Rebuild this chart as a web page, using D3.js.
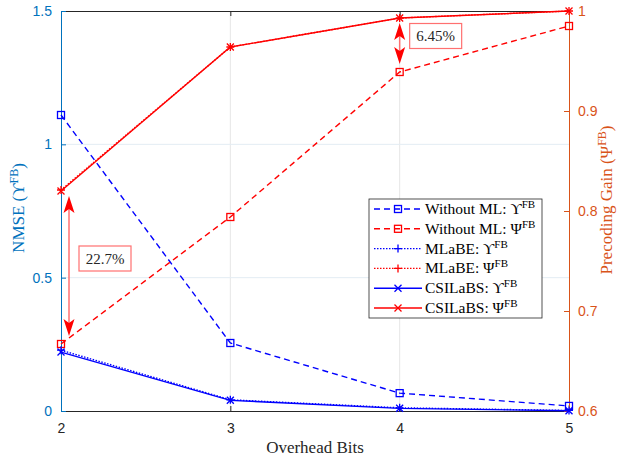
<!DOCTYPE html>
<html><head><meta charset="utf-8">
<script src="https://cdn.jsdelivr.net/npm/d3@7"></script>
<style>body{margin:0;background:#fff}svg{display:block}</style>
</head><body>
<svg id="c" width="618" height="458"></svg>
<script>
const bits = [2, 3, 4, 5];
const withoutML_U = [1.11, 0.255, 0.067, 0.019];
const withoutML_P = [0.667, 0.794, 0.939, 0.985];
const mlabe_U = [0.228, 0.042, 0.012, 0.002];
const mlabe_P = [0.821, 0.964, 0.993, 1.0];
const csilabs_U = [0.221, 0.040, 0.010, 0.001];
const csilabs_P = [0.820, 0.964, 0.993, 1.0];
const leftTicks = [0, 0.5, 1, 1.5];
const rightTicks = [0.6, 0.7, 0.8, 0.9, 1];
const xTicks = [2, 3, 4, 5];
const annotations = [{x: 2, top: 0.820, bottom: 0.667, label: "22.7%"}, {x: 4, top: 0.993, bottom: 0.939, label: "6.45%"}];

const BLUE_AX = "#0072BD", ORANGE_AX = "#D95319";
const SERIF = "'Liberation Serif','DejaVu Serif',serif";
const SANS = "'Liberation Sans',Arial,sans-serif";
const L = 61, R = 569, T = 11, B = 411;
const svg = d3.select("#c");
const x = d3.scaleLinear().domain([2, 5]).range([L, R]);
const yL = d3.scaleLinear().domain([0, 1.5]).range([B, T]);
const yR = d3.scaleLinear().domain([0.6, 1]).range([B, T]);

// grid
svg.append("g").selectAll("line").data(xTicks.slice(1, -1)).join("line")
  .attr("x1", d => x(d)).attr("x2", d => x(d)).attr("y1", T).attr("y2", B)
  .attr("stroke", "#e6e6e6").attr("stroke-width", 1);
svg.append("g").selectAll("line").data(leftTicks.slice(1, -1)).join("line")
  .attr("x1", L).attr("x2", R).attr("y1", d => yL(d)).attr("y2", d => yL(d))
  .attr("stroke", "#e3ecf3").attr("stroke-width", 1);

// axes
const gx = svg.append("g").attr("transform", `translate(0,${B})`)
  .call(d3.axisBottom(x).tickValues(xTicks).tickFormat(d3.format("d")).tickSizeInner(-5).tickSizeOuter(0).tickPadding(12));
gx.select(".domain").attr("stroke", "#262626");
gx.selectAll(".tick line").attr("stroke", "#262626");
gx.selectAll("text").attr("fill", "#262626").attr("font-family", SANS).attr("font-size", 14);
const gxt = svg.append("g").attr("transform", `translate(0,${T})`)
  .call(d3.axisTop(x).tickValues(xTicks).tickFormat("").tickSizeInner(-5).tickSizeOuter(0));
gxt.select(".domain").attr("stroke", "#262626");
gxt.selectAll(".tick line").attr("stroke", "#262626");

const gl = svg.append("g").attr("transform", `translate(${L},0)`)
  .call(d3.axisLeft(yL).tickValues(leftTicks).tickFormat(d => d).tickSizeInner(-5).tickSizeOuter(0).tickPadding(9));
gl.select(".domain").attr("stroke", BLUE_AX);
gl.selectAll(".tick line").attr("stroke", BLUE_AX);
gl.selectAll("text").attr("fill", BLUE_AX).attr("font-family", SANS).attr("font-size", 14);

const gr = svg.append("g").attr("transform", `translate(${R},0)`)
  .call(d3.axisRight(yR).tickValues(rightTicks).tickFormat(d => d).tickSizeInner(-5).tickSizeOuter(0).tickPadding(9));
gr.select(".domain").attr("stroke", ORANGE_AX);
gr.selectAll(".tick line").attr("stroke", ORANGE_AX);
gr.selectAll("text").attr("fill", ORANGE_AX).attr("font-family", SANS).attr("font-size", 14);

// axis titles
svg.append("text").attr("x", (L + R) / 2).attr("y", 453).attr("text-anchor", "middle")
  .attr("font-family", SERIF).attr("font-size", 17).attr("fill", "#262626").text("Overhead Bits");
function supLabel(sel, main, sup, close) {
  sel.append("tspan").text(main);
  sel.append("tspan").attr("dy", -6).attr("font-size", 12).text(sup);
  sel.append("tspan").attr("dy", 6).text(close);
}
const tl = svg.append("text").attr("transform", `translate(24,208) rotate(-90)`).attr("text-anchor", "middle")
  .attr("font-family", SERIF).attr("font-size", 17).attr("fill", BLUE_AX);
supLabel(tl, "NMSE (ϒ", "FB", ")");
const tr = svg.append("text").attr("transform", `translate(612,200) rotate(-90)`).attr("text-anchor", "middle")
  .attr("font-family", SERIF).attr("font-size", 17).attr("fill", ORANGE_AX);
supLabel(tr, "Precoding Gain (Ψ", "FB", ")");

// series
const series = [
  {name: "Without ML: ", sym: "ϒ", vals: withoutML_U, y: yL, color: "#0000ff", dash: "6,4", marker: "square"},
  {name: "Without ML: ", sym: "Ψ", vals: withoutML_P, y: yR, color: "#ff0000", dash: "6,4", marker: "square"},
  {name: "MLaBE: ", sym: "ϒ", vals: mlabe_U, y: yL, color: "#0000ff", dash: "1.5,1.5", marker: "plus"},
  {name: "MLaBE: ", sym: "Ψ", vals: mlabe_P, y: yR, color: "#ff0000", dash: "1.5,1.5", marker: "plus"},
  {name: "CSILaBS: ", sym: "ϒ", vals: csilabs_U, y: yL, color: "#0000ff", dash: null, marker: "cross"},
  {name: "CSILaBS: ", sym: "Ψ", vals: csilabs_P, y: yR, color: "#ff0000", dash: null, marker: "cross"}
];
function drawMarker(g, type, cx, cy, color) {
  if (type === "square") {
    g.append("rect").attr("x", cx - 3.5).attr("y", cy - 3.5).attr("width", 7).attr("height", 7)
      .attr("fill", "none").attr("stroke", color).attr("stroke-width", 1.3);
  } else if (type === "plus") {
    g.append("path").attr("d", `M${cx - 4},${cy}H${cx + 4}M${cx},${cy - 4}V${cy + 4}`)
      .attr("stroke", color).attr("stroke-width", 1.3).attr("fill", "none");
  } else {
    g.append("path").attr("d", `M${cx - 3.5},${cy - 3.5}L${cx + 3.5},${cy + 3.5}M${cx - 3.5},${cy + 3.5}L${cx + 3.5},${cy - 3.5}`)
      .attr("stroke", color).attr("stroke-width", 1.3).attr("fill", "none");
  }
}
const gs = svg.append("g");
series.forEach(s => {
  const line = d3.line().x((d, i) => x(bits[i])).y(d => s.y(d));
  gs.append("path").datum(s.vals).attr("d", line).attr("fill", "none")
    .attr("stroke", s.color).attr("stroke-width", 1.4).attr("stroke-dasharray", s.dash);
  s.vals.forEach((v, i) => drawMarker(gs, s.marker, x(bits[i]), s.y(v), s.color));
});

// annotations
const ga = svg.append("g");
annotations.forEach((a, k) => {
  const ax = x(a.x) + (k === 0 ? 8 : 0);
  const y1 = yR(a.top) + 5, y2 = yR(a.bottom) - 8;
  ga.append("line").attr("x1", ax).attr("x2", ax).attr("y1", y1 + 10).attr("y2", y2 - 10)
    .attr("stroke", "#ff7070").attr("stroke-width", 1.5);
  ga.append("path").attr("d", `M${ax},${y1}L${ax - 5.5},${y1 + 17}L${ax},${y1 + 13}L${ax + 5.5},${y1 + 17}Z`).attr("fill", "#ff0000");
  ga.append("path").attr("d", `M${ax},${y2}L${ax - 5.5},${y2 - 17}L${ax},${y2 - 13}L${ax + 5.5},${y2 - 17}Z`).attr("fill", "#ff0000");
  const midY = (y1 + y2) / 2;
  const bx = ax + 10, bw = 52, bh = 25;
  const by = midY - 20;
  ga.append("rect").attr("x", bx).attr("y", by).attr("width", bw).attr("height", bh)
    .attr("fill", "#fff").attr("stroke", "#ff7070").attr("stroke-width", 1.2);
  ga.append("text").attr("x", bx + bw / 2).attr("y", by + bh / 2 + 5).attr("text-anchor", "middle")
    .attr("font-family", SERIF).attr("font-size", 15).attr("fill", "#262626").text(a.label);
});

// legend
const lg = svg.append("g").attr("transform", "translate(369,199)");
lg.append("rect").attr("width", 173).attr("height", 119).attr("fill", "#fff").attr("stroke", "#262626").attr("stroke-width", 0.8);
series.forEach((s, i) => {
  const cy = 10 + i * 19.8;
  lg.append("line").attr("x1", 5).attr("x2", 53).attr("y1", cy).attr("y2", cy)
    .attr("stroke", s.color).attr("stroke-width", 1.4).attr("stroke-dasharray", s.dash);
  drawMarker(lg, s.marker, 29, cy, s.color);
  const t = lg.append("text").attr("x", 56).attr("y", cy + 5).attr("font-family", SERIF).attr("font-size", 15.5).attr("fill", "#000");
  t.append("tspan").text(s.name + s.sym);
  t.append("tspan").attr("dy", -6).attr("font-size", 11).text("FB");
});
</script>
</body></html>
